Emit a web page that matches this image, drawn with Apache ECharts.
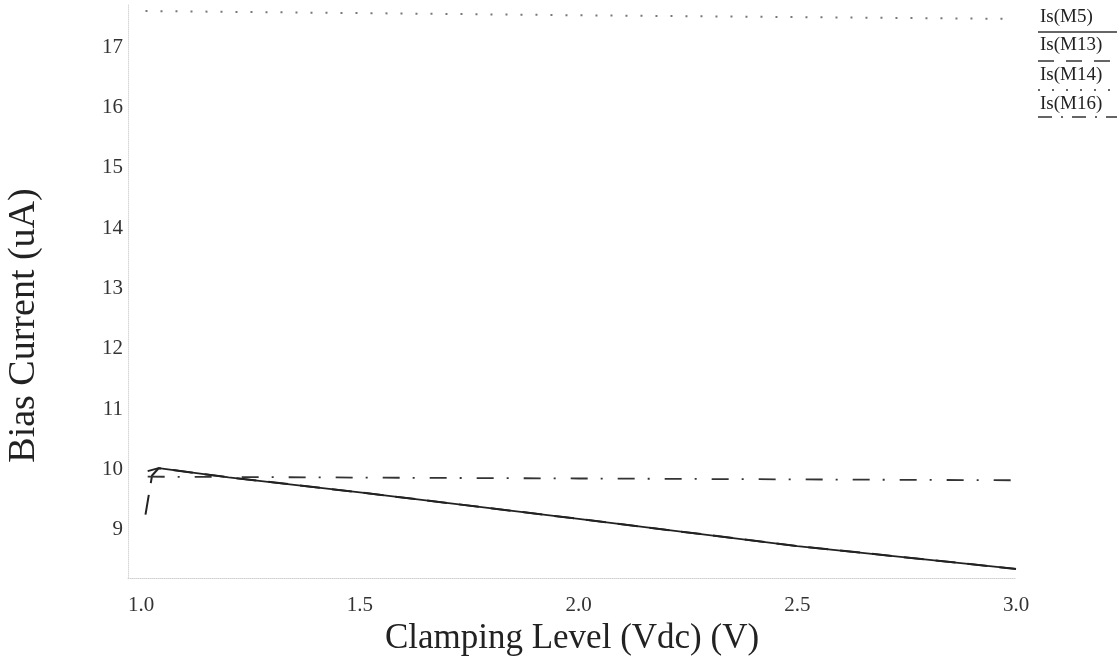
<!DOCTYPE html>
<html>
<head>
<meta charset="utf-8">
<script src="https://cdn.jsdelivr.net/npm/echarts@6/dist/echarts.min.js"></script>
<style>
html,body{margin:0;padding:0;background:#fff;}
#chart{width:1117px;height:658px;}
</style>
</head>
<body>
<div id="chart"></div>
<script>
// ---- data ----
const xTickLabels = [1.0, 1.5, 2.0, 2.5, 3.0];
const yTickLabels = [9, 10, 11, 12, 13, 14, 15, 16, 17];

const xM5  = [1.015, 1.04, 1.2, 1.5, 2.0, 2.5, 3.0];
const yM5  = [9.97, 10.02, 9.87, 9.62, 9.18, 8.73, 8.35];

const xM13 = [1.01, 1.025, 1.04, 1.2, 1.5, 2.0, 2.5, 3.0];
const yM13 = [9.25, 9.9, 10.02, 9.87, 9.62, 9.18, 8.73, 8.35];

const xM14 = [1.01, 2.0, 2.99];
const yM14 = [17.6, 17.53, 17.47];

const xM16 = [1.015, 2.0, 3.0];
const yM16 = [9.88, 9.85, 9.82];

const seriesNames = ['Is(M5)', 'Is(M13)', 'Is(M14)', 'Is(M16)'];

function pairs(xs, ys) { return xs.map((x, i) => [x, ys[i]]); }

const FONT = '"Liberation Serif", "Times New Roman", serif';
const chart = echarts.init(document.getElementById('chart'), null, {renderer: 'canvas'});

const legendY = [18, 46, 76, 105];
const legendLineY = [32, 61, 90, 117];
const legendDash = [null, [16, 12], [2, 12], [14, 9, 2, 9]];
const graphic = [];
seriesNames.forEach((n, i) => {
  graphic.push({
    type: 'text', left: 1040, top: legendY[i] - 10,
    style: {text: n, font: '19px ' + FONT, fill: '#222'}
  });
  graphic.push({
    type: 'line',
    shape: {x1: 1038, y1: legendLineY[i], x2: 1117, y2: legendLineY[i]},
    style: {stroke: '#333', lineWidth: 1.5, lineDash: legendDash[i] || null}
  });
});

chart.setOption({
  animation: false,
  backgroundColor: '#fff',
  grid: {left: 128, right: 101, top: 5, bottom: 80, containLabel: false, outerBoundsMode: 'none'},
  xAxis: {
    type: 'value', min: 0.97, max: 3.0,
    name: 'Clamping Level (Vdc) (V)', nameLocation: 'middle', nameGap: 40,
    nameTextStyle: {fontFamily: FONT, fontSize: 35, color: '#222'},
    axisLine: {show: true, lineStyle: {color: '#d0d0d0', type: 'dotted', width: 1}},
    axisTick: {show: false},
    splitLine: {show: false},
    axisLabel: {
      customValues: xTickLabels, margin: 17,
      fontFamily: FONT, fontSize: 21, color: '#333',
      formatter: v => Number(v).toFixed(1)
    }
  },
  yAxis: {
    type: 'value', min: 8.2, max: 17.7,
    name: 'Bias Current (uA)', nameLocation: 'middle', nameGap: 85, nameRotate: 90,
    nameTextStyle: {fontFamily: FONT, fontSize: 38, color: '#222', padding: [0, 68, 0, 0]},
    axisLine: {show: true, lineStyle: {color: '#d8d8d8', type: 'dotted', width: 1}},
    axisTick: {show: false},
    splitLine: {show: false},
    axisLabel: {
      customValues: yTickLabels, margin: 5,
      fontFamily: FONT, fontSize: 21, color: '#333'
    }
  },
  graphic: graphic,
  series: [
    {name: seriesNames[0], type: 'line', data: pairs(xM5, yM5), symbol: 'none',
     lineStyle: {color: '#222', width: 1.8, type: 'solid'}},
    {name: seriesNames[1], type: 'line', data: pairs(xM13, yM13), symbol: 'none',
     lineStyle: {color: '#222', width: 2, type: [20, 12]}},
    {name: seriesNames[2], type: 'line', data: pairs(xM14, yM14), symbol: 'none',
     lineStyle: {color: '#777', width: 2, type: [2, 13]}},
    {name: seriesNames[3], type: 'line', data: pairs(xM16, yM16), symbol: 'none',
     lineStyle: {color: '#333', width: 1.8, type: [17, 13, 2, 15]}}
  ]
});
</script>
</body>
</html>
